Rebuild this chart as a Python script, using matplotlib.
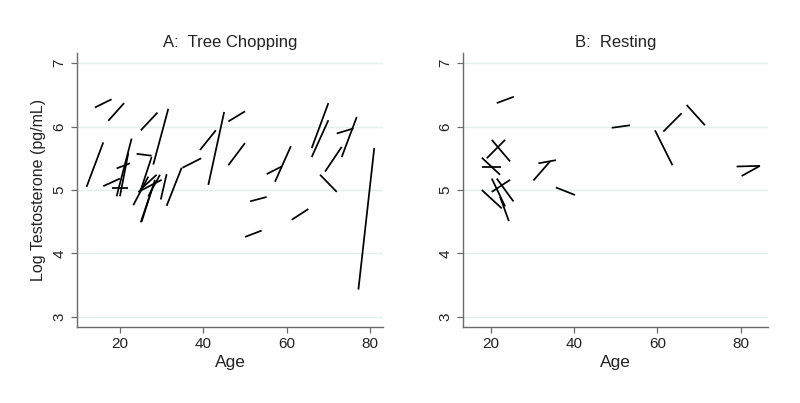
import matplotlib
matplotlib.use("Agg")
import matplotlib.pyplot as plt

plt.rcParams['font.family'] = ['Liberation Sans', 'DejaVu Sans']

# Panel A: Tree chopping (age at first / second sample, log T at first / second sample)
chop_age0 = [12.0, 14.0, 17.2, 16.0, 19.2, 20.0, 19.2, 18.0, 24.0, 25.0, 25.0, 28.0, 25.0,
             23.2, 25.2, 24.4, 24.8, 26.8, 29.8, 31.2, 35.0, 39.2, 41.2, 46.0, 46.0, 51.2,
             50.0, 55.2, 57.2, 61.2, 66.0, 66.0, 68.0, 69.2, 73.2, 72.0, 77.2]
chop_age1 = [16.0, 18.0, 21.0, 20.0, 22.8, 22.0, 22.4, 22.0, 27.6, 27.6, 29.0, 31.6, 27.6,
             26.8, 28.4, 30.0, 28.8, 29.6, 31.2, 34.8, 39.5, 43.0, 45.0, 50.0, 50.0, 55.2,
             54.0, 58.8, 61.0, 65.2, 70.0, 70.0, 72.0, 73.2, 76.8, 76.0, 81.0]
chop_t0 = [5.05, 6.30, 6.09, 5.06, 4.90, 4.90, 5.34, 5.03, 5.57, 5.00, 5.94, 5.40, 4.49,
           4.76, 4.50, 4.97, 5.00, 4.90, 4.85, 4.75, 5.35, 5.63, 5.08, 6.08, 5.39, 4.82,
           4.26, 5.25, 5.13, 4.53, 5.66, 5.52, 5.24, 5.29, 5.52, 5.89, 3.43]
chop_t1 = [5.75, 6.43, 6.37, 5.18, 5.81, 5.58, 5.42, 5.03, 5.54, 5.52, 6.22, 6.28, 5.00,
           5.21, 5.16, 5.16, 5.24, 5.24, 5.25, 5.35, 5.50, 5.94, 6.23, 6.24, 5.74, 4.89,
           4.36, 5.37, 5.69, 4.70, 6.37, 6.10, 4.97, 5.68, 6.15, 5.97, 5.66]

# Panel B: Resting
rest_age0 = [21.4, 20.2, 19.0, 17.8, 17.8, 20.2, 20.2, 21.4, 17.8, 22.2, 31.4, 30.2, 35.6,
             49.0, 59.4, 61.4, 67.0, 79.0, 80.2]
rest_age1 = [25.5, 24.6, 23.4, 22.2, 22.4, 24.6, 23.4, 25.4, 22.6, 24.3, 35.6, 34.2, 40.2,
             53.4, 63.6, 65.8, 71.4, 84.6, 84.6]
rest_t0 = [6.37, 5.79, 5.50, 5.51, 5.37, 4.97, 5.18, 5.18, 5.00, 4.89, 5.42, 5.15, 5.04,
           5.98, 5.94, 5.92, 6.34, 5.37, 5.22]
rest_t1 = [6.47, 5.45, 5.79, 5.24, 5.37, 5.16, 4.74, 4.82, 4.71, 4.51, 5.47, 5.45, 4.92,
           6.02, 5.39, 6.21, 6.02, 5.38, 5.38]

titles = ["A:  Tree Chopping", "B:  Resting"]
xticks = [20, 40, 60, 80]
yticks = [3, 4, 5, 6, 7]

fig = plt.figure(figsize=(8.0, 4.03), dpi=100)
fig.patch.set_facecolor('white')
ax1 = fig.add_axes([0.09625, 0.1886, 0.3825, 0.680])
ax2 = fig.add_axes([0.5788, 0.1886, 0.381, 0.680])

panels = [
    (ax1, chop_age0, chop_age1, chop_t0, chop_t1, (9.7, 83.1)),
    (ax2, rest_age0, rest_age1, rest_t0, rest_t1, (13.3, 86.5)),
]

for i, (ax, a0, a1, t0, t1, xl) in enumerate(panels):
    for x0, x1, y0, y1 in zip(a0, a1, t0, t1):
        ax.plot([x0, x1], [y0, y1], color='black', lw=1.25, solid_capstyle='butt')
    ax.set_xlim(*xl)
    ax.set_ylim(2.84, 7.16)
    ax.set_xticks(xticks)
    ax.set_yticks(yticks)
    ax.set_yticklabels([str(v) for v in yticks], rotation=90, va='center')
    for y in yticks:
        ax.axhline(y, color='#e4eeee', lw=1.0, zorder=0)
    for s in ['top', 'right']:
        ax.spines[s].set_visible(False)
    for s in ['left', 'bottom']:
        ax.spines[s].set_color('#6a6a6a')
        ax.spines[s].set_linewidth(1.0)
    ax.tick_params(axis='both', colors='#6a6a6a', labelcolor='#222222', length=4,
                   width=0.9, labelsize=11)
    ax.set_xlabel("Age", fontsize=12.5, labelpad=2.5, color='#222222')
    ax.set_title(titles[i], fontsize=12, color='#222222', pad=4)

ax1.set_ylabel("Log Testosterone (pg/mL)", fontsize=11.5, color='#222222', labelpad=5)

fig.savefig("out.png", dpi=100, facecolor='white')
